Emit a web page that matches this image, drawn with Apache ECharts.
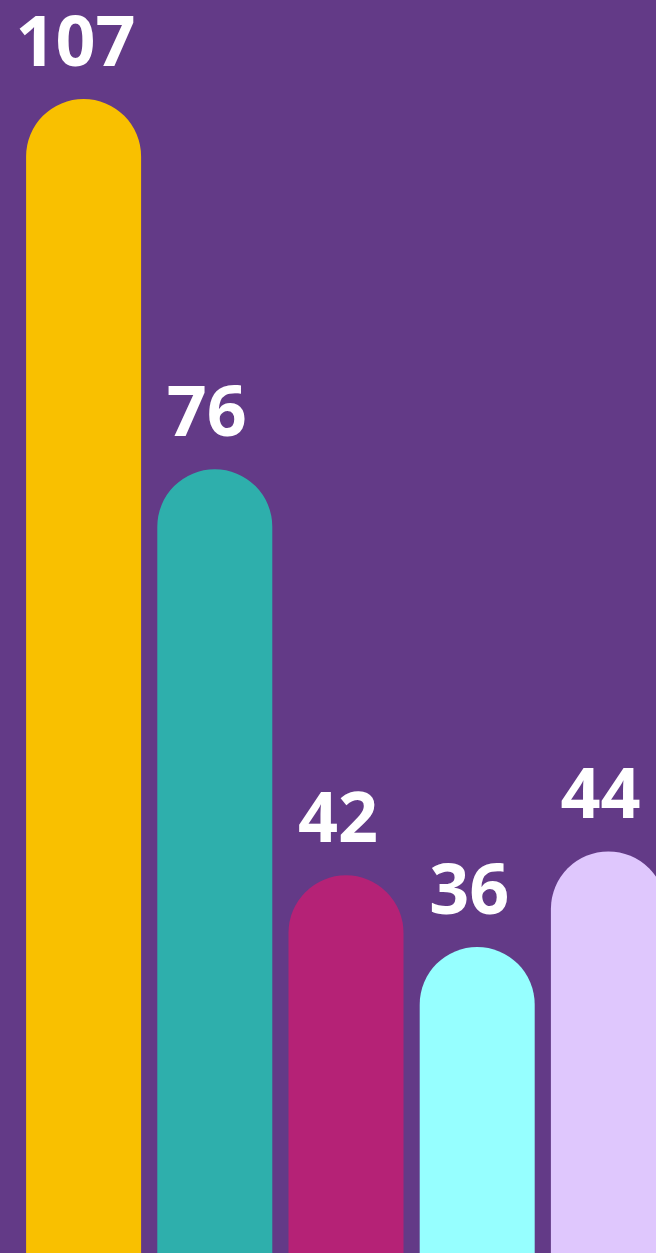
<!DOCTYPE html>
<html>
<head>
<meta charset="utf-8">
<script src="https://cdn.jsdelivr.net/npm/echarts@6/dist/echarts.min.js"></script>
<style>
  html, body { margin: 0; padding: 0; background: #633a87; overflow: hidden; width: 656px; height: 1253px; }
  #chart { width: 674px; height: 1377px; }
</style>
</head>
<body>
<div id="chart"></div>
<script>
const categories = ['A', 'B', 'C', 'D', 'E'];
const values = [107, 76, 42, 36, 44];
const barColors = ['#f9c000', '#2eafac', '#b52276', '#96ffff', '#dfc7fd'];

const chart = echarts.init(document.getElementById('chart'), null, { renderer: 'canvas' });
chart.setOption({
  backgroundColor: '#633a87',
  animation: false,
  grid: { left: 18, right: 0, top: 99, bottom: 0, containLabel: false },
  xAxis: {
    type: 'category',
    data: categories,
    axisLine: { show: false },
    axisTick: { show: false },
    axisLabel: { show: false },
    splitLine: { show: false }
  },
  yAxis: {
    type: 'value',
    min: 0,
    max: 107,
    show: false,
    splitLine: { show: false }
  },
  series: [{
    type: 'bar',
    barWidth: 115,
    data: values.map((v, i) => ({
      value: v,
      itemStyle: { color: barColors[i], borderRadius: [57.5, 57.5, 0, 0] }
    })),
    label: {
      show: true,
      position: 'top',
      distance: 18,
      offset: [-8, 0],
      color: '#ffffff',
      fontFamily: 'Open Sans',
      fontWeight: 'bold',
      fontSize: 70
    }
  }]
});
</script>
</body>
</html>
